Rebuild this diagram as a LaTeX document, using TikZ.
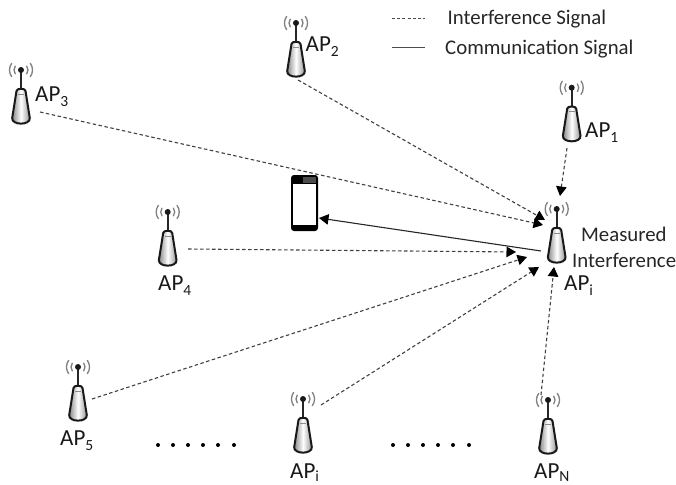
\documentclass[tikz,border=0pt]{standalone}
\usepackage{fontspec}
\setmainfont{Carlito}
\usetikzlibrary{arrows.meta}
\newcommand{\apsub}[2][-5pt]{\raisebox{#1}{\fontsize{15.5}{15.5}\selectfont #2}}
\tikzset{
 x=1pt,y=-1pt,
 lab/.style={anchor=base west,inner sep=0pt,text=black!90,font=\fontsize{23}{23}\selectfont},
 txt/.style={anchor=base west,inner sep=0pt,text=black!85,font=\fontsize{20.8}{20.8}\selectfont},
 interf/.style={draw=black!75,line width=1.1pt,dash pattern=on 3.5pt off 2.5pt},
 legdash/.style={draw=black!70,line width=0.9pt,dash pattern=on 3pt off 2.2pt},
 comm/.style={draw=black!85,line width=1.1pt},
 legcomm/.style={draw=black!70,line width=1.1pt},
 tip/.style={-{Triangle[length=9.5pt,width=10.5pt,black]}},
 dotm/.style={circle,fill=black,inner sep=0pt,minimum size=4pt},
 pics/antenna/.style={code={
   \draw[black!85,line width=2pt] (0,2)--(0,20);
   \fill[black!90] (0,0) circle (3);
   \foreach \r in {7,11.5}{
     \draw[black!50,line width=1.3pt] (-\r*0.8,-\r*0.6) arc[start angle=217,end angle=143,radius=\r];
     \draw[black!50,line width=1.3pt] (\r*0.8,-\r*0.6) arc[start angle=-37,end angle=37,radius=\r];
   }
   \shade[left color=black!50,right color=black!45,middle color=white,draw=black!90,line width=2pt]
     (-4.5,21) .. controls (-4.5,18) and (4.5,18) .. (4.5,21)
     -- (8.8,48) .. controls (9.6,55.5) and (-9.6,55.5) .. (-8.8,48) -- cycle;
   \draw[black!45,line width=.8pt] (-3,24)--(3,24);
 }}
}
\begin{document}
\begin{tikzpicture}
\useasboundingbox (0,0) rectangle (676,484);
\pic at (571.7,87.7) {antenna};
\pic at (556.7,209) {antenna};
\pic at (296,23) {antenna};
\pic at (21,70) {antenna};
\pic at (167.7,212) {antenna};
\pic at (78,367) {antenna};
\pic at (303,399) {antenna};
\pic at (548,400) {antenna};
% labels
\node[lab] (l1) at (585,137) {AP\apsub{1}};
\node[lab] (l2) at (305.5,52) {AP\apsub{2}};
\node[lab] (l3) at (35,102) {AP\apsub{3}};
\node[lab] (l4) at (158,290) {AP\apsub{4}};
\node[lab] (l5) at (60,445) {AP\apsub{5}};
\node[lab] (lj) at (290,478.5) {AP\apsub[-3pt]{i}};
\node[lab] (lN) at (534,478.5) {AP\apsub[-3pt]{N}};
\node[lab] (li) at (564,290) {AP\apsub{i}};
\node[txt] (m1) at (581,241) {Measured};
\node[txt] (m2) at (572,267) {Interference};
\node[txt] (t1) at (447.5,25) {Interference Signal};
\node[txt] (t2) at (445,55) {Communication Signal};
% phone
\fill[black,rounded corners=3pt] (291,175) rectangle (318,231);
\fill[black!70] (303,176.5) rectangle (316,183);
\fill[white] (293,184) rectangle (316,225);
% anchor coordinates
\coordinate (a1) at (567,148); \coordinate (b1) at (560,196);
\coordinate (a2) at (298,80);  \coordinate (b2) at (545,220);
\coordinate (a3) at (40,112);  \coordinate (b3) at (543,225);
\coordinate (a4) at (188,249); \coordinate (b4) at (516,252);
\coordinate (a5) at (92,399);  \coordinate (b5) at (527,257);
\coordinate (aj) at (321,405); \coordinate (bj) at (539,267);
\coordinate (aN) at (541,395); \coordinate (bN) at (554,267);
\coordinate (si) at (541,251); \coordinate (sp) at (319,218);
\coordinate (ld1) at (392,18.5); \coordinate (ld2) at (425,18.5);
\coordinate (lc1) at (392,47.7); \coordinate (lc2) at (425,47.7);
\draw[interf,tip] (a1)--(b1);
\draw[interf,tip] (a2)--(b2);
\draw[interf,tip] (a3)--(b3);
\draw[interf,tip] (a4)--(b4);
\draw[interf,tip] (a5)--(b5);
\draw[interf,tip] (aj)--(bj);
\draw[interf,tip] (aN)--(bN);
\draw[comm,tip] (si)--(sp);
\draw[legdash] (ld1)--(ld2);
\draw[legcomm] (lc1)--(lc2);
\foreach \x [count=\i] in {158,173,188,203,218,234}{\node[dotm] (da\i) at (\x,445) {};}
\foreach \x [count=\i] in {393,408,423,438,453,469}{\node[dotm] (db\i) at (\x,445) {};}
\end{tikzpicture}
\end{document}
